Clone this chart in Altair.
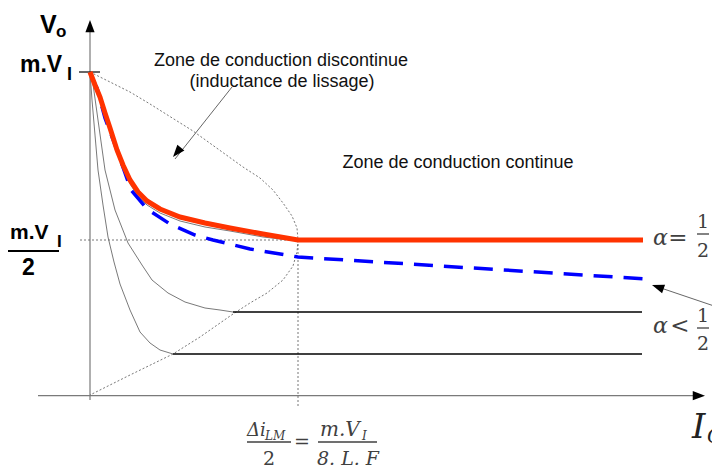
import altair as alt
import pandas as pd

# ---- data (chart units: Io horizontal, V vertical, origin at the axes crossing) ----
# alpha = 1/2 characteristic (red)
red_io = [0, 5, 10, 15, 20, 27, 33, 40, 48, 57, 70, 90, 115, 140, 173, 208, 553]
red_v = [323, 310, 298, 282, 267, 245, 230, 215, 203, 194, 186, 178, 172, 167, 161, 155, 155]
# thin grey curve right under the red one
grey_io = [0, 10, 20, 27, 33, 40, 48, 57, 70, 90, 115, 140, 173, 208]
grey_v = [322, 295, 264, 242, 226, 211, 199, 190, 182, 174, 168, 164, 158, 154]
# alpha < 1/2 characteristic (blue dashed)
blue_io = [2, 7, 15, 28, 41, 57, 80, 105, 123, 160, 208, 557]
blue_v = [317, 307, 277, 242, 205, 186, 171, 160, 155, 146, 138, 116]
# two thin curves of discontinuous conduction and their flat continuations
curveB_io = [0, 2, 8, 15, 25, 38, 52, 62, 78, 95, 115, 130, 143]
curveB_v = [323, 318, 275, 225, 185, 152, 130, 115, 102, 93, 87, 85, 83]
curveA_io = [0, 2, 5, 8, 13, 18, 24, 30, 40, 50, 60, 70, 83]
curveA_v = [323, 295, 260, 225, 190, 158, 133, 111, 85, 63, 52, 45, 41]
flat_io = [143, 83]
flat_io2 = [552, 552]
flat_v = [83, 41]
# boundary of the discontinuous-conduction zone (dotted)
env_io = [0, 40, 60, 103, 153, 170, 183, 193, 202, 207, 208, 207, 203, 193, 177, 160, 143, 110, 83, 40, 0]
env_v = [323, 303, 291, 264, 228, 217, 205, 192, 179, 167, 155, 143, 129, 115, 102, 92, 81, 58, 41, 20, 0]
# reference levels
v_max = 323
v_half = 155
io_lim = 208

X = lambda f="io": alt.X(f"{f}:Q", scale=alt.Scale(domain=[-82, 622]), axis=None)
Y = lambda f="v": alt.Y(f"{f}:Q", scale=alt.Scale(domain=[-63, 387]), axis=None)


def line(io, v, **mk):
    df = pd.DataFrame({"io": io, "v": v, "k": list(range(len(io)))})
    return alt.Chart(df).mark_line(**mk).encode(x=X(), y=Y(), order="k:Q")


def rules(io, v, io2, v2, **mk):
    df = pd.DataFrame({"io": io, "v": v, "io2": io2, "v2": v2})
    return alt.Chart(df).mark_rule(**mk).encode(
        x=X(), y=Y(), x2=alt.X2("io2"), y2=alt.Y2("v2"))


def text(io, v, t, **mk):
    df = pd.DataFrame({"io": io, "v": v, "t": t})
    return alt.Chart(df).mark_text(baseline="alphabetic", **mk).encode(x=X(), y=Y(), text="t:N")


ARROW = "M0,0L-0.75,2L0.75,2Z"
head_io = [0, 615, 83, 562]
head_v = [375, -0.7, 238, 110]
head_ang = [0, 90, 220, 289]
heads = alt.Chart(pd.DataFrame({"io": head_io, "v": head_v, "a": head_ang})).mark_point(
    shape=ARROW, filled=True, size=150, color="black", opacity=1, strokeWidth=0
).encode(x=X(), y=Y(), angle=alt.Angle("a:Q", scale=None))

SANS = "Liberation Sans"
MATH = "DejaVu Serif"
MC = "#404040"

layers = [
    # axes
    rules([0, -52], [-5, -0.7], [0, 605], [363, -0.7], color="#7a7a7a", strokeWidth=1.2),
    rules([-11], [v_max], [10], [v_max], color="black", strokeWidth=1.2),
    # dotted guides
    rules([-10, io_lim], [v_half, v_half], [io_lim, io_lim], [v_half, -13],
          color="#666666", strokeWidth=0.9, strokeDash=[2, 2]),
    line(env_io, env_v, color="#555555", strokeWidth=0.8, strokeDash=[2, 2]),
    # thin curves
    line(curveA_io, curveA_v, color="#6a6a6a", strokeWidth=0.9),
    line(curveB_io, curveB_v, color="#6a6a6a", strokeWidth=0.9),
    rules(flat_io, flat_v, flat_io2, flat_v, color="black", strokeWidth=1.3),
    line(grey_io, grey_v, color="#6a6a6a", strokeWidth=0.9),
    # main characteristics
    line(blue_io, blue_v, color="#0000ff", strokeWidth=3.5, strokeDash=[19, 11]),
    line(red_io, red_v, color="#ff3300", strokeWidth=5),
    # annotation arrows
    rules([142, 630], [308, 87], [85, 565], [236, 109], color="#555555", strokeWidth=0.9),
    heads,
    # axis labels
    text([-50], [362], ["V"], font=SANS, fontSize=25, fontWeight="bold", align="left"),
    text([-34], [358], ["o"], font=SANS, fontSize=17, fontWeight="bold", align="left"),
    text([-70], [323], ["m.V"], font=SANS, fontSize=23, fontWeight="bold", align="left"),
    text([-23], [315], ["I"], font=SANS, fontSize=18, fontWeight="bold", align="left"),
    text([-80], [156], ["m.V"], font=SANS, fontSize=21, fontWeight="bold", align="left"),
    text([-33], [148], ["I"], font=SANS, fontSize=17, fontWeight="bold", align="left"),
    rules([-84], [144], [-31], [144], color="black", strokeWidth=2),
    text([-61.5], [120], ["2"], font=SANS, fontSize=23, fontWeight="bold", align="center"),
    # zone labels
    text([191, 192], [329, 308], ["Zone de conduction discontinue", "(inductance de lissage)"],
         font=SANS, fontSize=18, align="center", color="#111111"),
    text([368], [227], ["Zone de conduction continue"], font=SANS, fontSize=18,
         align="center", color="#111111"),
    # alpha labels
    text([563, 563], [150, 62], ["α", "α"], font=MATH, fontSize=22, fontStyle="italic",
         align="left", color=MC),
    text([588, 590], [150, 62], ["=", "<"], font=MATH, fontSize=23, align="center", color=MC),
    text([613, 613, 613, 613], [167, 138, 73, 45], ["1", "2", "1", "2"], font=MATH,
         fontSize=19, align="center", color=MC),
    rules([607, 607], [161, 67], [619, 619], [161, 67], color=MC, strokeWidth=1.3),
    # bottom formula
    text([157], [-41], ["Δi"], font=MATH, fontSize=18, fontStyle="italic", align="left", color=MC),
    text([175], [-45], ["LM"], font=MATH, fontSize=12, fontStyle="italic", align="left", color=MC),
    rules([157, 228], [-47, -47], [201, 287], [-47, -47], color=MC, strokeWidth=1.3),
    text([179], [-70], ["2"], font=MATH, fontSize=19, align="center", color=MC),
    text([212], [-53], ["="], font=MATH, fontSize=19, align="center", color=MC),
    text([230], [-41], ["m.V"], font=MATH, fontSize=20, fontStyle="italic", align="left", color=MC),
    text([272], [-45], ["I"], font=MATH, fontSize=12, fontStyle="italic", align="left", color=MC),
    text([258], [-70], ["8. L. F"], font=MATH, fontSize=19, fontStyle="italic", align="center", color=MC),
    text([602], [-43], ["I"], font=MATH, fontSize=34, fontStyle="italic", align="left", color="#222222"),
    text([617], [-48], ["O"], font=MATH, fontSize=20, fontStyle="italic", align="left", color="#222222"),
]

chart = alt.layer(*layers).properties(
    width=704, height=450, autosize="none",
    padding={"left": 0, "top": 0, "right": 0, "bottom": 8},
).configure_view(strokeWidth=0)

chart.save("out.html", embed_options={"renderer": "svg", "actions": False})
